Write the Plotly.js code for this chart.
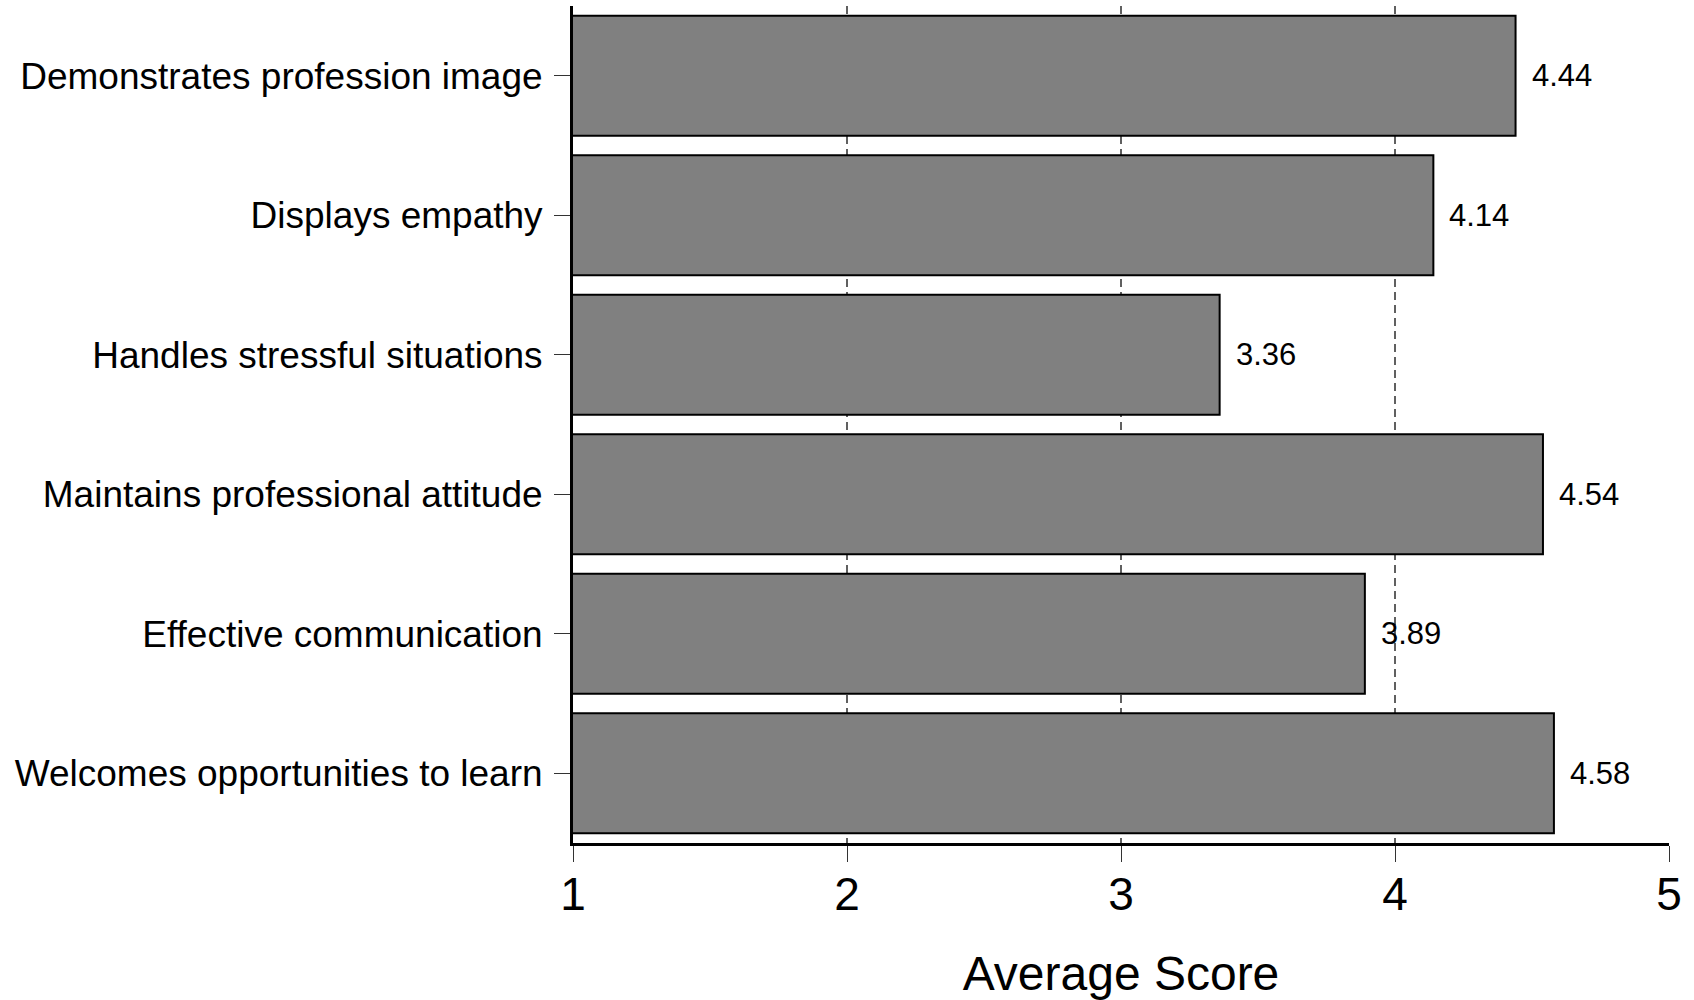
<!DOCTYPE html>
<html>
<head>
<meta charset="utf-8">
<script src="https://cdn.plot.ly/plotly-3.0.1.min.js"></script>
<style>html,body{margin:0;padding:0;background:#fff;}#chart{width:1694px;height:1000px;}</style>
</head>
<body>
<div id="chart"></div>
<script>
const categories = [
  "Demonstrates profession image",
  "Displays empathy",
  "Handles stressful situations",
  "Maintains professional attitude",
  "Effective communication",
  "Welcomes opportunities to learn"
];
const scores = [4.44, 4.14, 3.36, 4.54, 3.89, 4.58];
const scoreLabels = ["4.44", "4.14", "3.36", "4.54", "3.89", "4.58"];
const xTicks = [1, 2, 3, 4, 5];

const FONT = '"Liberation Sans", Arial, Helvetica, sans-serif';

const trace = {
  type: 'bar',
  orientation: 'h',
  x: scores,
  y: categories,
  marker: {color: '#808080', line: {color: '#000000', width: 2}},
  hoverinfo: 'x+y'
};

const annotations = scores.map((v, i) => ({
  x: v, y: categories[i], xref: 'x', yref: 'y',
  text: scoreLabels[i], showarrow: false,
  xanchor: 'left', yanchor: 'middle', xshift: 14,
  font: {family: FONT, size: 31, color: '#000'}
}));

const layout = {
  width: 1694, height: 1000,
  margin: {l: 573, r: 25, t: 6, b: 157},
  paper_bgcolor: '#fff', plot_bgcolor: '#fff',
  font: {family: FONT, color: '#000'},
  bargap: 0.14,
  showlegend: false,
  xaxis: {
    range: [1, 5],
    tickvals: xTicks,
    ticktext: xTicks.map(String),
    ticks: 'outside', ticklen: 16, tickwidth: 1, tickcolor: '#333',
    tickfont: {family: FONT, size: 46, color: '#000'},
    ticklabelstandoff: -7,
    showline: true, linewidth: 3, linecolor: '#000',
    showgrid: true, gridcolor: '#606060', gridwidth: 1.3, griddash: '8px,5px',
    zeroline: false,
    title: {text: 'Average Score', font: {family: FONT, size: 48, color: '#000'}, standoff: 39}
  },
  yaxis: {
    type: 'category',
    autorange: 'reversed',
    ticks: 'outside', ticklen: 16, tickwidth: 1, tickcolor: '#333',
    tickfont: {family: FONT, size: 37, color: '#000'},
    ticklabelstandoff: 4,
    showline: true, linewidth: 3, linecolor: '#000',
    showgrid: false, zeroline: false
  },
  annotations: annotations
};

Plotly.newPlot('chart', [trace], layout, {displayModeBar: false, staticPlot: true});
</script>
</body>
</html>
